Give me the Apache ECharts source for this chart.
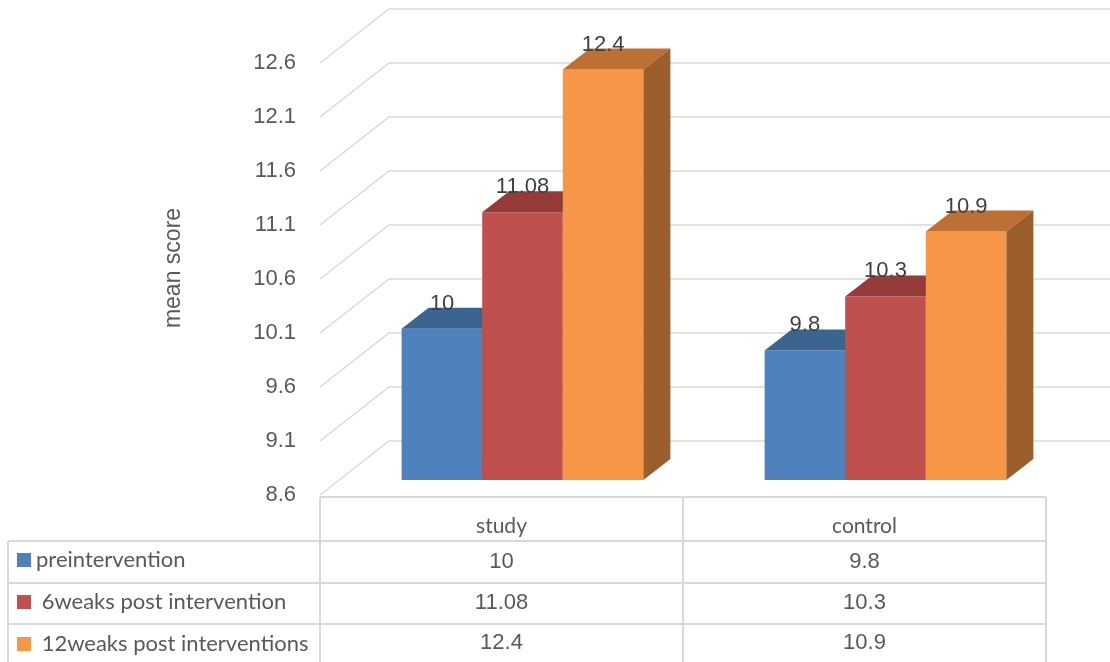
<!DOCTYPE html>
<html>
<head>
<meta charset="utf-8">
<script src="https://cdn.jsdelivr.net/npm/echarts@6/dist/echarts.min.js"></script>
<style>
  html, body { margin: 0; padding: 0; background: #fff; }
  #chart { width: 1110px; height: 662px; }
</style>
</head>
<body>
<div id="chart"></div>
<script>
// data
const categories = ['study', 'control'];
const seriesNames = ['preintervention', ' 6weaks post intervention', ' 12weaks post interventions'];
const preValues = [10, 9.8];
const week6Values = [11.08, 10.3];
const week12Values = [12.4, 10.9];
const yTicks = [8.6, 9.1, 9.6, 10.1, 10.6, 11.1, 11.6, 12.1, 12.6];

const allValues = [preValues, week6Values, week12Values];
// front / top / side colours of each bar
const colors = [
  ['#4F81BD', '#3C6491', '#2F4F78'],
  ['#C0504D', '#953C3A', '#8A3735'],
  ['#F79646', '#BC7033', '#9C5F2B']
];

// 3d offsets
const WALL_DX = 69, WALL_DY = -54;   // depth of the back wall
const BAR_FX = 21, BAR_FY = -15;     // bar front face behind front plane
const BAR_DX = 27, BAR_DY = -21;     // bar depth
const gridCol = '#D9D9D9';
const textCol = '#595959';

const chart = echarts.init(document.getElementById('chart'));

function barRenderer(s) {
  return function (params, api) {
    const cat = api.value(0);
    const v = api.value(1);
    const top = api.coord([cat, v]);
    const base = api.coord([cat, yTicks[0]]);
    const band = api.size([1, 0])[0];
    const w = band * 0.222;
    const x0 = top[0] - 1.5 * w + s * w + BAR_FX;
    const yt = top[1] + BAR_FY;
    const yb = base[1] + BAR_FY;
    const c = colors[s];
    return {
      type: 'group',
      children: [
        {
          type: 'rect',
          shape: { x: x0, y: yt, width: w, height: yb - yt },
          style: { fill: c[0] }
        },
        {
          type: 'polygon',
          shape: { points: [[x0, yt], [x0 + BAR_DX, yt + BAR_DY], [x0 + w + BAR_DX, yt + BAR_DY], [x0 + w, yt]] },
          style: { fill: c[1] }
        },
        {
          type: 'polygon',
          shape: { points: [[x0 + w, yt], [x0 + w + BAR_DX, yt + BAR_DY], [x0 + w + BAR_DX, yb + BAR_DY], [x0 + w, yb]] },
          style: { fill: c[2] }
        },
        {
          type: 'text',
          z2: 10,
          style: {
            x: x0 + w / 2, y: yt - 25,
            text: String(v),
            fill: '#404040',
            font: '22px "Liberation Sans", Arial, sans-serif',
            align: 'center', verticalAlign: 'middle'
          }
        }
      ]
    };
  };
}

// walls: diagonal on left side + line on back wall
const wallSeries = {
  type: 'custom',
  silent: true,
  z: 1,
  data: yTicks.map(t => [0, t]),
  renderItem: (params, api) => {
    const p = api.coord([0, api.value(1)]);
    const x = params.coordSys.x;
    const w = params.coordSys.width;
    return {
      type: 'polyline',
      shape: { points: [[x, p[1]], [x + WALL_DX, p[1] + WALL_DY], [x + w + WALL_DX, p[1] + WALL_DY]] },
      style: { stroke: gridCol, lineWidth: 1.5, fill: null }
    };
  }
};

const barSeries = allValues.map((vals, s) => ({
  type: 'custom',
  name: seriesNames[s],
  z: 2,
  itemStyle: { color: colors[s][0] },
  data: vals.map((v, i) => [i, v]),
  encode: { x: 0, y: 1 },
  renderItem: barRenderer(s)
}));

// table rows are extra category axes under the grid
const rowOffsets = [56, 97, 137];
const rowAxes = allValues.map((vals, s) => ({
  type: 'category',
  data: categories,
  position: 'bottom',
  offset: rowOffsets[s],
  axisLine: { show: false },
  axisTick: { show: false },
  axisLabel: {
    margin: 0,
    color: textCol,
    fontSize: 22,
    lineHeight: 22,
    fontFamily: '"Liberation Sans", Arial, sans-serif',
    formatter: (val, idx) => String(vals[idx])
  }
}));

// table lines
const L = 8, C0 = 320, C1 = 683, C2 = 1046;
const rowsY = [497, 541, 583, 624];
const lineStyle = { stroke: gridCol, lineWidth: 2 };
const tableLines = [
  { type: 'line', shape: { x1: C0, y1: rowsY[0], x2: C2, y2: rowsY[0] }, style: lineStyle },
  { type: 'line', shape: { x1: L, y1: rowsY[1], x2: C2, y2: rowsY[1] }, style: lineStyle },
  { type: 'line', shape: { x1: L, y1: rowsY[2], x2: C2, y2: rowsY[2] }, style: lineStyle },
  { type: 'line', shape: { x1: L, y1: rowsY[3], x2: C2, y2: rowsY[3] }, style: lineStyle },
  { type: 'line', shape: { x1: L, y1: rowsY[1], x2: L, y2: 662 }, style: lineStyle },
  { type: 'line', shape: { x1: C0, y1: rowsY[0], x2: C0, y2: 662 }, style: lineStyle },
  { type: 'line', shape: { x1: C1, y1: rowsY[0], x2: C1, y2: 662 }, style: lineStyle },
  { type: 'line', shape: { x1: C2, y1: rowsY[0], x2: C2, y2: 662 }, style: lineStyle }
];

const option = {
  animation: false,
  backgroundColor: '#fff',
  grid: { left: C0, right: 1110 - C2, top: 63, bottom: 167 },
  legend: {
    orient: 'vertical',
    left: 17,
    top: 549,
    height: 112,
    padding: 0,
    itemWidth: 14,
    itemHeight: 14,
    itemGap: 20,
    icon: 'rect',
    selectedMode: false,
    data: seriesNames,
    textStyle: { color: textCol, fontSize: 22, lineHeight: 22, fontFamily: 'Lato, "Noto Sans", sans-serif' }
  },
  xAxis: [{
    type: 'category',
    data: categories,
    axisLine: { show: false },
    axisTick: { show: false },
    axisLabel: {
      margin: 21,
      color: textCol,
      fontSize: 21,
      lineHeight: 21,
      fontFamily: 'Lato, "Noto Sans", sans-serif'
    }
  }].concat(rowAxes),
  yAxis: {
    type: 'value',
    min: yTicks[0],
    max: yTicks[yTicks.length - 1],
    interval: 0.5,
    name: 'mean score',
    nameLocation: 'middle',
    nameGap: 135,
    nameRotate: 90,
    nameTextStyle: {
      color: textCol, fontSize: 23, padding: [0, 0, 0, 22],
      fontFamily: '"Liberation Sans", Arial, sans-serif'
    },
    axisLine: { show: false },
    axisTick: { show: false },
    splitLine: { show: false },
    axisLabel: {
      margin: 24,
      color: textCol,
      fontSize: 22,
      fontFamily: '"Liberation Sans", Arial, sans-serif',
      formatter: v => v.toFixed(1)
    }
  },
  graphic: tableLines,
  series: [wallSeries].concat(barSeries)
};

chart.setOption(option);
</script>
</body>
</html>
